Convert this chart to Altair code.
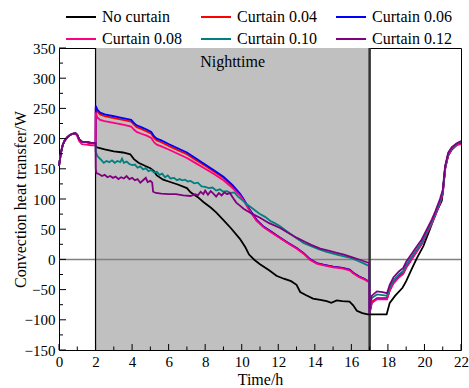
import altair as alt
import pandas as pd

# ---------------------------------------------------------------- series
SERIES = ["No curtain", "Curtain 0.04", "Curtain 0.06",
          "Curtain 0.08", "Curtain 0.10", "Curtain 0.12"]
COLORS = ["#000000", "#ff0000", "#0000ff", "#ff0080", "#008080", "#800080"]

# daytime warm-up (0-2 h), shared by all cases
DAY_T = [0.0, 0.1, 0.2, 0.3, 0.45, 0.6, 0.75, 0.9, 1.0, 1.1, 1.25, 1.5, 1.75, 2.0]
DAY_W = [155, 176, 189, 196, 202, 206, 208, 209, 206, 199, 195, 194, 193, 193]
DAY_W_08 = [155, 176, 189, 196, 202, 206, 208, 208, 204, 196, 191, 190, 189, 189]

# no curtain: night and following morning
BLACK_T = [2.02, 2.5, 3.0, 3.5, 3.9, 4.1, 4.35, 4.7, 5.0, 5.2, 5.35, 5.7, 6.0, 6.5, 7.0,
           7.2, 7.6, 7.9, 8.3, 8.6, 9.0, 9.4, 9.9, 10.2, 10.4, 10.7, 11.0, 11.5, 11.9, 12.3,
           12.7, 13.0, 13.2, 13.5, 13.9, 14.3, 14.65, 14.9, 15.2, 15.5, 15.9, 16.1, 16.3, 16.6, 16.9,
           17.5, 17.93, 18.1, 18.4, 18.8, 19.0, 19.3, 19.6, 19.94, 20.3, 20.6, 20.95, 21.05, 21.15, 21.3,
           21.5, 21.75, 22.0]
BLACK_W = [186, 182, 179, 177, 174, 166, 160, 155, 151, 146, 139, 132, 129, 124, 118,
           111, 103, 95, 86, 78, 65, 52, 34, 20, 8, -1, -8, -18, -27, -32,
           -36, -42, -54, -59, -65, -67, -69, -72, -68, -69, -70, -76, -85, -89, -91,
           -91, -91, -72, -60, -47, -36, -16, 3, 22, 50, 75, 97, 125, 155, 172,
           182, 189, 193]

# curtains 0.04 / 0.06 / 0.08 during the night
RBP_T = [2.01, 2.1, 2.25, 2.5, 3.0, 3.5, 3.95, 4.1, 4.25, 4.5, 4.8, 5.05, 5.2, 5.35, 5.6,
         6.0, 6.5, 7.0, 7.5, 8.0, 8.5, 9.0, 9.5, 9.9, 10.1, 10.4, 10.8, 11.2, 11.6, 12.0,
         12.5, 13.0, 13.4, 13.75, 14.1, 14.5, 15.0, 15.5, 15.9, 16.1, 16.4, 16.7, 16.97]
C04_NIGHT = [251, 245, 240, 237, 234, 231, 228, 223, 219, 216, 212, 208, 201, 197, 194,
             188, 181, 174, 164, 155, 145, 135, 121, 108, 99, 84, 66, 54, 46, 38,
             28, 19, 10, 0, -6, -9, -12, -14, -17, -22, -28, -32, -37]
C06_NIGHT = [254, 248, 243, 240, 237, 234, 231, 226, 222, 219, 215, 211, 204, 200, 197,
             191, 184, 177, 167, 157, 147, 137, 123, 109, 100, 84, 66, 54, 46, 38,
             28, 19, 10, 0, -6, -9, -12, -14, -17, -22, -28, -32, -37]
C08_NIGHT = [243, 235, 231, 229, 226, 223, 220, 215, 211, 208, 205, 201, 194, 190, 187,
             182, 175, 168, 159, 150, 141, 131, 118, 106, 98, 82, 64, 53, 45, 37,
             27, 18, 9, -1, -7, -10, -13, -15, -18, -23, -29, -33, -38]

# curtain 0.10 during the night
C10_T = [2.01, 2.1, 2.3, 2.45, 2.6, 2.75, 2.9, 3.05, 3.2, 3.35, 3.45, 3.55, 3.7, 3.85, 4.0,
         4.15, 4.3, 4.45, 4.6, 4.75, 4.9, 5.05, 5.2, 5.35, 5.5, 5.65, 5.8, 5.95, 6.1, 6.3,
         6.45, 6.6, 6.75, 6.9, 7.05, 7.2, 7.4, 7.6, 7.8, 8.0, 8.2, 8.4, 8.6, 8.8, 9.0,
         9.2, 9.4, 9.6, 9.8, 10.0, 10.3, 10.65, 11.0, 11.3, 11.55, 11.8, 12.1, 12.5, 13.0,
         13.4, 13.8, 14.2, 14.6, 15.2, 15.6, 16.0, 16.4, 16.7, 16.97]
C10_NIGHT = [178, 171, 165, 160, 163, 161, 164, 160, 163, 161, 167, 160, 162, 158, 156,
             157, 152, 154, 149, 151, 146, 148, 144, 145, 140, 142, 136, 139, 134, 135,
             131, 133, 131, 132, 129, 130, 126, 127, 121, 120, 118, 119, 114, 116, 112,
             113, 110, 111, 104, 99, 91, 83, 75, 70, 64, 60, 55, 46, 35,
             27, 22, 17, 13, 8, 5, 2, -3, -7, -11]

# curtain 0.12 during the night
C12_T = [2.01, 2.05, 2.2, 2.35, 2.5, 2.65, 2.8, 2.95, 3.1, 3.25, 3.4, 3.55, 3.7, 3.85, 4.0,
         4.15, 4.3, 4.45, 4.6, 4.75, 4.85, 5.0, 5.1, 5.15, 5.3, 5.6, 6.0, 6.4, 6.8, 7.2,
         7.45, 7.6, 7.75, 7.9, 8.0, 8.15, 8.3, 8.45, 8.6, 8.75, 8.9, 9.05, 9.2, 9.35, 9.5,
         9.7, 9.9, 10.1, 10.3, 10.6, 11.0, 11.5, 12.1, 12.6, 13.0, 13.4, 13.8, 14.3, 14.8,
         15.2, 15.6, 16.1, 16.5, 16.97]
C12_NIGHT = [150, 143, 141, 138, 140, 136, 138, 135, 137, 133, 136, 134, 138, 133, 135,
             131, 133, 127, 131, 135, 128, 130, 127, 112, 110, 109, 108, 108, 106, 105,
             108, 106, 112, 108, 114, 107, 113, 109, 104, 110, 106, 111, 108, 110, 103,
             94, 89, 84, 80, 75, 69, 60, 52, 43, 36, 30, 24, 18, 14,
             11, 8, 3, -1, -6]

# curtains opened again (17-22 h)
POST_T = [17.0, 17.05, 17.12, 17.4, 17.7, 17.95, 18.1, 18.3, 18.6, 18.84, 19.0, 19.2,
          19.5, 19.85, 20.1, 20.4, 20.6, 20.85, 21.0, 21.13, 21.3, 21.5, 21.75, 22.0]
C04_POST = [-89, -78, -70, -64, -64, -64, -50, -38, -28, -22, -12, -3,
            11, 27, 43, 61, 75, 95, 110, 151, 174, 184, 190, 193]
C06_POST = [-90, -82, -72, -65, -65, -65, -51, -39, -29, -23, -13, -4,
            10, 26, 42, 60, 74, 94, 109, 150, 173, 184, 190, 193]
C08_POST = [-89, -80, -72, -66, -66, -66, -52, -40, -30, -24, -14, -5,
            9, 25, 41, 59, 73, 93, 108, 149, 172, 183, 189, 191]
C10_POST = [-88, -74, -64, -58, -59, -60, -47, -35, -25, -19, -9, 0,
            13, 28, 44, 62, 76, 96, 112, 152, 175, 185, 191, 195]
C12_POST = [-88, -70, -60, -53, -54, -56, -42, -30, -20, -14, -4, 5,
            18, 33, 48, 66, 80, 100, 115, 155, 177, 186, 192, 196]

NIGHT_START, NIGHT_END = 2, 17
X_MAJOR = list(range(0, 23, 2))
X_MINOR = list(range(1, 22, 2))
Y_MAJOR = list(range(-150, 351, 50))
Y_MINOR = list(range(-125, 326, 50))

# ---------------------------------------------------------------- table
parts = [
    ("No curtain", DAY_T + BLACK_T, DAY_W + BLACK_W),
    ("Curtain 0.04", DAY_T + RBP_T + POST_T, DAY_W + C04_NIGHT + C04_POST),
    ("Curtain 0.06", DAY_T + RBP_T + POST_T, DAY_W + C06_NIGHT + C06_POST),
    ("Curtain 0.08", DAY_T + RBP_T + POST_T, DAY_W_08 + C08_NIGHT + C08_POST),
    ("Curtain 0.10", DAY_T + C10_T + POST_T, DAY_W + C10_NIGHT + C10_POST),
    ("Curtain 0.12", DAY_T + C12_T + POST_T, DAY_W + C12_NIGHT + C12_POST),
]
rows = []
for name, ts, ws in parts:
    assert len(ts) == len(ws), name
    rows += [{"series": name, "t": t, "w": w} for t, w in zip(ts, ws)]
df = pd.DataFrame(rows)

# ---------------------------------------------------------------- chart
W, H = 402, 302
FONT = "'Liberation Serif', 'Times New Roman', Times, serif"
XS = alt.Scale(domain=[0, 22], nice=False, zero=False)
YS = alt.Scale(domain=[-150, 350], nice=False, zero=False)


def xenc(field):
    return alt.X(field, type="quantitative", scale=XS, title="Time/h",
                 axis=alt.Axis(values=X_MAJOR, format="d", labelFlush=False,
                               labelOverlap=False))


def yenc(field):
    return alt.Y(field, type="quantitative", scale=YS, title="Convection heat transfer/W",
                 axis=alt.Axis(values=Y_MAJOR, format="d", labelFlush=False,
                               labelOverlap=False))


night = alt.Chart(pd.DataFrame({"s": [NIGHT_START], "e": [NIGHT_END]})).mark_rect(
    color="#c0c0c0").encode(x=xenc("s"), x2="e", y=alt.value(0), y2=alt.value(H))

zero = alt.Chart(pd.DataFrame({"y": [0]})).mark_rule(
    color="#808080", strokeWidth=1.5).encode(y=yenc("y"))

left_edge = alt.Chart(pd.DataFrame({"t": [NIGHT_START]})).mark_rule(
    color="#000000", strokeWidth=1.2).encode(x=xenc("t"), y=alt.value(0), y2=alt.value(H))
right_edge = alt.Chart(pd.DataFrame({"t": [NIGHT_END]})).mark_rule(
    color="#333333", strokeWidth=2.5).encode(x=xenc("t"), y=alt.value(0), y2=alt.value(H))

lines = alt.Chart(df).mark_line(strokeWidth=1.8, interpolate="linear").encode(
    x=xenc("t"),
    y=yenc("w"),
    color=alt.Color(
        "series:N",
        sort=SERIES,
        scale=alt.Scale(domain=SERIES, range=COLORS),
        legend=alt.Legend(
            title=None, orient="none", legendX=6, legendY=-39, columns=3,
            direction="horizontal", gridAlign="all",
            symbolType="stroke", symbolSize=900, symbolStrokeWidth=2,
            clipHeight=16, rowPadding=6, columnPadding=18, labelOffset=5,
            labelFont=FONT, labelFontSize=16, labelColor="#000000", padding=0,
        ),
    ),
    order=alt.Order("t:Q"),
)

xt_major = alt.Chart(pd.DataFrame({"t": X_MAJOR})).mark_rule(color="black").encode(
    x=xenc("t"), y=alt.value(H), y2=alt.value(H - 6))
xt_minor = alt.Chart(pd.DataFrame({"t": X_MINOR})).mark_rule(color="black").encode(
    x=xenc("t"), y=alt.value(H), y2=alt.value(H - 3.5))
yt_major = alt.Chart(pd.DataFrame({"v": Y_MAJOR})).mark_rule(color="black").encode(
    y=yenc("v"), x=alt.value(0), x2=alt.value(7))
yt_minor = alt.Chart(pd.DataFrame({"v": Y_MINOR})).mark_rule(color="black").encode(
    y=yenc("v"), x=alt.value(0), x2=alt.value(4))

label = alt.Chart(pd.DataFrame({"t": [(NIGHT_START + NIGHT_END) / 2], "txt": ["Nighttime"]})).mark_text(
    font=FONT, fontSize=16, color="black", baseline="middle").encode(
    x=xenc("t"), y=alt.value(14), text="txt:N")

chart = alt.layer(
    night, zero, left_edge, right_edge, lines,
    xt_major, xt_minor, yt_major, yt_minor, label,
).properties(
    width=W, height=H,
    autosize=alt.AutoSizeParams(type="none"),
    padding={"left": 59, "top": 48, "right": 8, "bottom": 38},
    background="white",
).configure_view(
    stroke="black", strokeWidth=1,
).configure_axis(
    grid=False, domain=False, ticks=False, tickSize=0,
    labelFont=FONT, labelFontSize=15, labelColor="black",
    titleFont=FONT, titleFontSize=16, titleFontWeight="normal", titleColor="black",
).configure_axisX(
    labelPadding=4, titlePadding=2,
).configure_axisY(
    labelPadding=4, titlePadding=-4,
)

chart.save("out.html", embed_options={"renderer": "svg", "actions": False})
